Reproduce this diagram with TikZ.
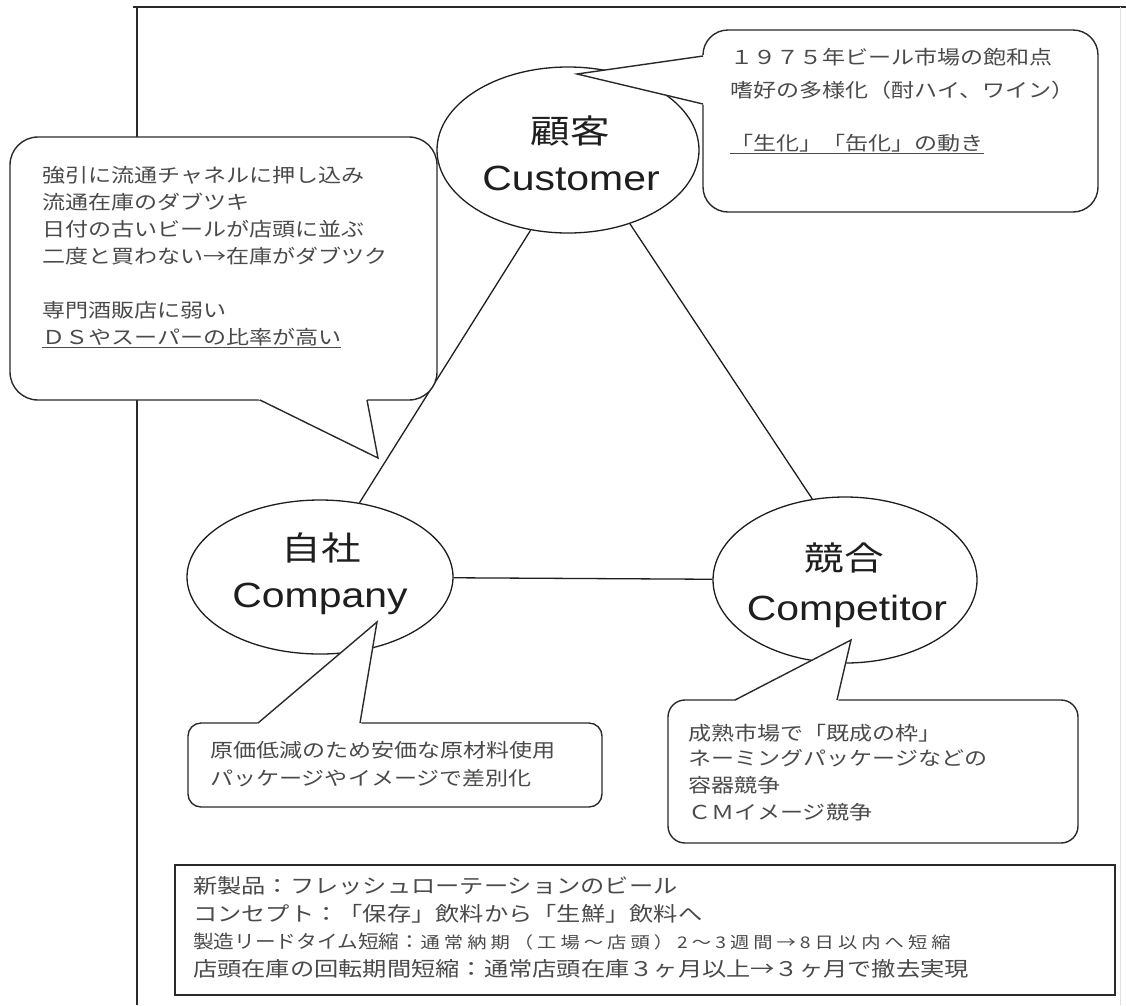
\documentclass[tikz,border=0pt]{standalone}
\usepackage{fontspec}
\usepackage{graphicx}
\usetikzlibrary{shapes.geometric}
\newfontfamily\jp[FakeStretch=1.2]{Noto Sans CJK JP}
\newfontfamily\jpls[FakeStretch=1.2,LetterSpace=25]{Noto Sans CJK JP}
\newfontfamily\lat[FakeStretch=1.17]{Liberation Sans}
\definecolor{txt}{HTML}{4A4A4A}
\definecolor{ink}{HTML}{1E1E1E}
\definecolor{edge}{HTML}{2A2A2A}
\begin{document}
\begin{tikzpicture}[x=1pt,y=-1pt,
  ell/.style={ellipse, draw=ink, line width=1.3pt, fill=white, inner sep=0pt},
  link/.style={draw=ink, line width=1.3pt},
  bubble/.style={draw=edge, line width=1.4pt, fill=white},
  tailline/.style={draw=edge, line width=1.4pt, line join=miter},
  ctext/.style={anchor=base west, inner sep=0pt, text=txt, font=\jp\fontsize{19.2}{23}\selectfont},
  btext/.style={anchor=base west, inner sep=0pt, text=txt, font=\jp\fontsize{20.2}{25}\selectfont},
  btiny/.style={anchor=base west, inner sep=0pt, text=txt, font=\jpls\fontsize{14.5}{18}\selectfont},
  jlab/.style={anchor=base, inner sep=0pt, text=ink, font=\jp\fontsize{33}{40}\selectfont},
  elab/.style={anchor=base, inner sep=0pt, text=ink, font=\lat\fontsize{35}{42}\selectfont},
  frame/.style={draw=edge, line width=1.6pt}]

\useasboundingbox (0,0) rectangle (1126,1005);
\fill[white] (0,0) rectangle (1126,1005);

% frame
\coordinate (f1) at (133,7);
\coordinate (f2) at (1126,7);
\coordinate (f3) at (137,7);
\coordinate (f4) at (137,1005);
\coordinate (f5) at (1120,7);
\coordinate (f6) at (1120,1005);
\draw[frame] (f1) -- (f2);
\draw[frame] (f3) -- (f4);
\draw[gray!25, line width=0.8pt] (f5) -- (f6);

% ellipses
\node[ell, minimum width=262pt, minimum height=166pt] (cust) at (568,150) {};
\node[ell, minimum width=266pt, minimum height=154pt] (comp) at (320,577) {};
\node[ell, minimum width=264pt, minimum height=166pt] (rival) at (845,580) {};

% triangle
\draw[link] (cust.245) -- (comp.62);
\draw[link] (cust.310) -- (rival.112);
\draw[link] (comp) -- (rival);

% labels
\node[jlab] (custj) at (570,143) {顧客};
\node[elab] (custe) at (571,190) {Customer};
\node[jlab] (compj) at (321,560) {自社};
\node[elab] (compe) at (320,607) {Company};
\node[jlab] (rivalj) at (844,570) {競合};
\node[elab] (rivale) at (847,620) {Competitor};

% callout A (company issues)
\draw[bubble, rounded corners=28pt] (10,137) rectangle (437,400);
\fill[white] (256,398) -- (378,458) -- (367,398) -- cycle;
\draw[tailline] (260,400) -- (378,458) -- (367,400);
\node[ctext] (a1) at (42,182) {強引に流通チャネルに押し込み};
\node[ctext] (a2) at (42,209) {流通在庫のダブツキ};
\node[ctext] (a3) at (42,236) {日付の古いビールが店頭に並ぶ};
\node[ctext] (a4) at (42,263) {二度と買わない→在庫がダブツク};
\node[ctext] (a5) at (42,317) {専門酒販店に弱い};
\node[ctext] (a6) at (42,344) {\underline{ＤＳやスーパーの比率が高い}};

% callout B (customer)
\draw[bubble, rounded corners=25pt] (703,30) rectangle (1098,212);
\fill[white] (705,55) -- (577,74) -- (705,105) -- cycle;
\draw[tailline] (703,56) -- (577,74) -- (703,104);
\node[ctext] (b1) at (730,64) {１９７５年ビール市場の飽和点};
\node[ctext] (b2) at (730,97) {嗜好の多様化（酎ハイ、ワイン）};
\node[ctext] (b3) at (730,150) {\underline{「生化」「缶化」の動き}};

% callout C (company)
\draw[bubble, rounded corners=13pt] (188,723) rectangle (602,807);
\fill[white] (256,725) -- (377,622) -- (361,725) -- cycle;
\draw[tailline] (258,723) -- (377,622) -- (360,723);
\node[ctext] (c1) at (210,757) {原価低減のため安価な原材料使用};
\node[ctext] (c2) at (210,785) {パッケージやイメージで差別化};

% callout D (competitor)
\draw[bubble, rounded corners=17pt] (668,700) rectangle (1078,843);
\fill[white] (733,702) -- (851,640) -- (838,702) -- cycle;
\draw[tailline] (735,700) -- (851,640) -- (837,700);
\node[ctext] (d1) at (688,740) {成熟市場で「既成の枠」};
\node[ctext] (d2) at (688,765) {ネーミングパッケージなどの};
\node[ctext] (d3) at (688,792) {容器競争};
\node[ctext] (d4) at (688,819) {ＣＭイメージ競争};

% bottom box
\draw[draw=edge, line width=1.6pt] (175,865) rectangle (1115,995);
\node[btext] (e1) at (193,893) {新製品：フレッシュローテーションのビール};
\node[btext] (e2) at (193,921) {コンセプト：「保存」飲料から「生鮮」飲料へ};
\node[btext] (e3a) at (193,948) {\resizebox{227pt}{15.5pt}{製造リードタイム短縮：}};
\node[btiny] (e3b) at (e3a.base east) {\resizebox{530pt}{!}{通常納期（工場～店頭）2～3週間→8日以内へ短縮}};
\node[btext] (e4) at (193,976) {店頭在庫の回転期間短縮：通常店頭在庫３ヶ月以上→３ヶ月で撤去実現};
\end{tikzpicture}
\end{document}
